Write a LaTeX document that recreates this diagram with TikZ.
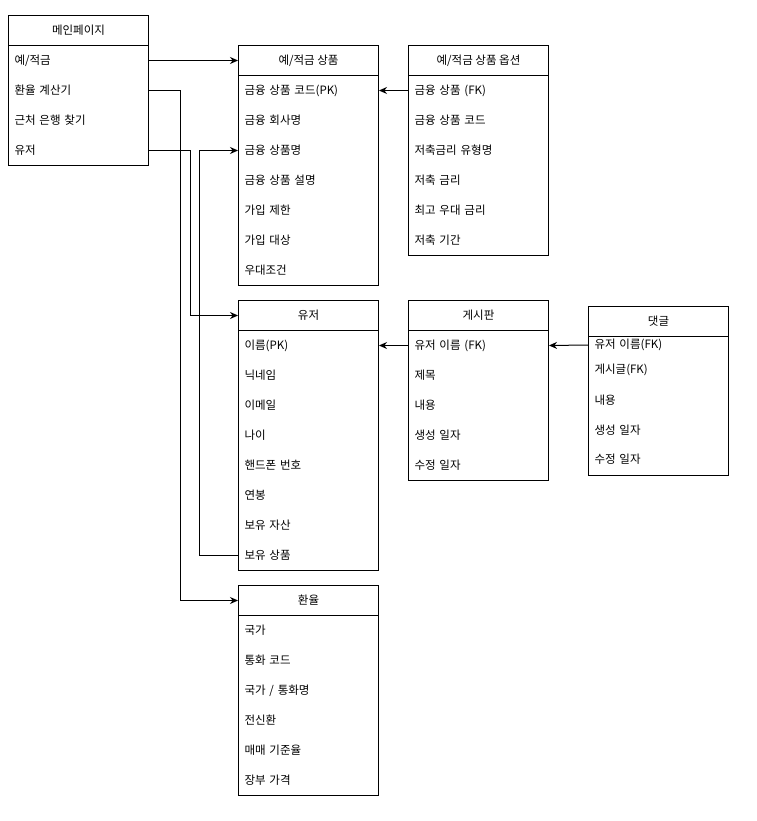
\documentclass[tikz,border=0pt]{standalone}
\usepackage{fontspec}
\setmainfont{Noto Sans CJK KR}
\usetikzlibrary{arrows.meta}
\usetikzlibrary{positioning}

\tikzset{
  hd/.style={draw, minimum width=140pt, minimum height=30pt, anchor=north west, inner sep=0pt},
  bx/.style={draw, minimum width=140pt, anchor=north west, inner sep=0pt},
  fld/.style={minimum width=140pt, minimum height=30pt, text width=128pt, align=left, inner xsep=6pt, inner ysep=0pt, anchor=north west},
  rel/.style={-{Stealth[length=8pt,width=7pt]}}
}

\begin{document}
\begin{tikzpicture}[x=1pt, y=-1pt, line width=1pt, font=\fontsize{11.5}{13}\selectfont]
\useasboundingbox (0,0) rectangle (756,821);

% main page
\node[hd] (m0) at (8,15) {메인페이지};
\node[bx, minimum height=120pt] (mb) at (8,45) {};
\foreach \t [count=\i] in {예/적금, 환율 계산기, 근처 은행 찾기, 유저}
  \node[fld] (m\i) at (8,15+30*\i) {\t};

% deposit products
\node[hd] (p0) at (238,45) {예/적금 상품};
\node[bx, minimum height=210pt] (pb) at (238,75) {};
\foreach \t [count=\i] in {금융 상품 코드(PK), 금융 회사명, 금융 상품명, 금융 상품 설명, 가입 제한, 가입 대상, 우대조건}
  \node[fld] (p\i) at (238,45+30*\i) {\t};

% product options
\node[hd] (o0) at (408,45) {예/적금 상품 옵션};
\node[bx, minimum height=180pt] (ob) at (408,75) {};
\foreach \t [count=\i] in {금융 상품 (FK), 금융 상품 코드, 저축금리 유형명, 저축 금리, 최고 우대 금리, 저축 기간}
  \node[fld] (o\i) at (408,45+30*\i) {\t};

% user
\node[hd] (u0) at (238,300) {유저};
\node[bx, minimum height=240pt] (ub) at (238,330) {};
\foreach \t [count=\i] in {이름(PK), 닉네임, 이메일, 나이, 핸드폰 번호, 연봉, 보유 자산, 보유 상품}
  \node[fld] (u\i) at (238,300+30*\i) {\t};

% board
\node[hd] (b0) at (408,300) {게시판};
\node[bx, minimum height=150pt] (bb) at (408,330) {};
\foreach \t [count=\i] in {유저 이름 (FK), 제목, 내용, 생성 일자, 수정 일자}
  \node[fld] (b\i) at (408,300+30*\i) {\t};

% comment
\node[hd] (c0) at (588,305.7) {댓글};
\node[bx, minimum height=139.3pt] (cb) at (588,335.7) {};
\node[fld, anchor=west] (c1) at (588,345) {유저 이름(FK)};
\node[fld, anchor=west] (c2) at (588,370) {게시글(FK)};
\node[fld, anchor=west] (c3) at (588,400) {내용};
\node[fld, anchor=west] (c4) at (588,430) {생성 일자};
\node[fld, anchor=west] (c5) at (588,459) {수정 일자};

% exchange rate
\node[hd] (x0) at (238,585) {환율};
\node[bx, minimum height=180pt] (xb) at (238,615) {};
\foreach \t [count=\i] in {국가, 통화 코드, 국가 / 통화명, 전신환, 매매 기준율, 장부 가격}
  \node[fld] (x\i) at (238,585+30*\i) {\t};

% relations
\draw[rel] (m1.east) -- (p0.west);
\draw[rel] (m2.east) -- ++(31,0) |- (x0.west);
\draw[rel] (m4.east) -- ++(41,0) |- (u0.west);
\draw[rel] (u8.west) -- ++(-39,0) |- (p3.west);
\draw[rel] (o1.west) -- (p1.east);
\draw[rel] (b1.west) -- (u1.east);
\draw[rel] (c1.west) -- (b1.east);
\end{tikzpicture}
\end{document}
